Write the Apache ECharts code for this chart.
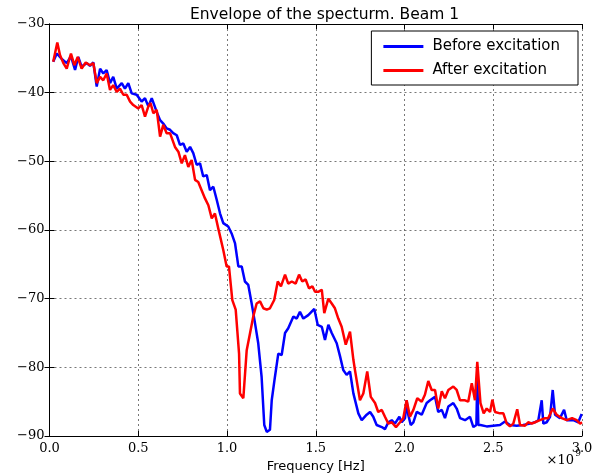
<!DOCTYPE html>
<html>
<head>
<meta charset="utf-8">
<script src="https://cdn.jsdelivr.net/npm/echarts@6/dist/echarts.min.js"></script>
<style>html,body{margin:0;padding:0;background:#fff}#c{width:593px;height:473px}</style>
</head>
<body>
<div id="c"></div>
<script>
// Frequency in units of 1e9 Hz
const beforeX = [0.021,0.041,0.069,0.097,0.121,0.144,0.162,0.181,0.210,0.228,0.247,0.266,0.285,0.303,0.322,0.341,0.359,0.379,0.407,0.425,0.444,0.463,0.491,0.519,0.538,0.557,0.576,0.604,0.623,0.641,0.660,0.679,0.697,0.717,0.735,0.754,0.773,0.792,0.810,0.829,0.848,0.866,0.886,0.904,0.923,0.942,0.961,0.979,1.007,1.026,1.045,1.064,1.083,1.101,1.120,1.139,1.158,1.176,1.195,1.210,1.224,1.242,1.252,1.270,1.289,1.308,1.327,1.345,1.374,1.393,1.411,1.430,1.458,1.492,1.511,1.534,1.552,1.571,1.590,1.618,1.637,1.655,1.674,1.693,1.712,1.740,1.759,1.787,1.806,1.824,1.843,1.872,1.890,1.909,1.928,1.946,1.971,1.984,2.003,2.012,2.021,2.035,2.050,2.069,2.097,2.125,2.144,2.172,2.190,2.210,2.228,2.247,2.275,2.294,2.313,2.341,2.369,2.388,2.405,2.410,2.416,2.428,2.463,2.500,2.538,2.566,2.594,2.632,2.669,2.707,2.735,2.754,2.773,2.782,2.801,2.820,2.835,2.848,2.876,2.899,2.914,2.951,2.979,2.998];
const beforeY = [-35.5,-34.3,-35.1,-35.7,-34.7,-36.7,-34.8,-36.2,-35.7,-36.1,-35.6,-39.1,-36.5,-37.2,-36.7,-38.6,-37.7,-39.4,-38.6,-39.4,-38.6,-40.1,-40.3,-41.3,-40.8,-42.0,-40.8,-42.8,-44.0,-44.5,-45.2,-45.4,-45.9,-46.2,-47.6,-47.4,-48.6,-47.9,-48.8,-50.5,-50.3,-52.2,-52.0,-54.2,-53.7,-55.6,-57.6,-59.0,-59.5,-60.5,-61.9,-65.3,-65.3,-67.5,-68.0,-70.7,-73.6,-76.5,-81.4,-88.4,-89.4,-89.1,-84.8,-81.4,-78.0,-78.2,-75.0,-74.3,-72.6,-72.9,-71.9,-72.9,-72.4,-71.5,-73.8,-74.1,-76.0,-73.8,-75.0,-76.5,-78.4,-80.4,-81.1,-80.6,-83.8,-86.7,-87.7,-86.9,-86.5,-87.2,-88.4,-88.7,-89.0,-88.0,-87.7,-88.2,-87.2,-88.0,-87.4,-84.8,-86.9,-88.4,-88.0,-86.5,-86.9,-85.2,-84.8,-84.3,-86.5,-86.2,-87.4,-85.7,-85.2,-86.0,-87.4,-87.7,-87.2,-88.7,-88.4,-81.5,-88.4,-88.4,-88.6,-88.5,-88.4,-87.9,-88.4,-88.5,-88.4,-88.2,-88.0,-87.7,-84.8,-88.2,-88.0,-87.2,-83.3,-86.9,-87.4,-86.2,-87.7,-87.7,-88.0,-86.8];
const afterX = [0.021,0.044,0.059,0.078,0.097,0.121,0.140,0.159,0.181,0.204,0.228,0.247,0.266,0.285,0.303,0.322,0.341,0.359,0.379,0.397,0.416,0.435,0.454,0.472,0.500,0.519,0.538,0.557,0.569,0.585,0.604,0.623,0.641,0.660,0.679,0.707,0.726,0.745,0.763,0.782,0.801,0.820,0.838,0.857,0.876,0.895,0.914,0.932,0.951,0.979,0.998,1.011,1.030,1.049,1.068,1.073,1.092,1.111,1.130,1.148,1.167,1.186,1.205,1.224,1.242,1.266,1.286,1.304,1.327,1.345,1.365,1.387,1.406,1.424,1.443,1.462,1.481,1.496,1.514,1.534,1.548,1.571,1.590,1.608,1.627,1.646,1.669,1.693,1.712,1.721,1.749,1.768,1.790,1.810,1.834,1.852,1.872,1.890,1.909,1.928,1.952,1.975,1.993,2.012,2.031,2.050,2.072,2.097,2.115,2.134,2.153,2.172,2.190,2.210,2.228,2.247,2.275,2.294,2.313,2.341,2.359,2.379,2.397,2.410,2.428,2.446,2.463,2.482,2.495,2.510,2.538,2.557,2.576,2.594,2.613,2.635,2.651,2.679,2.697,2.717,2.735,2.763,2.792,2.810,2.835,2.857,2.886,2.914,2.944,2.970,2.989,3.0];
const afterY = [-35.5,-32.7,-34.5,-35.7,-36.5,-34.3,-36.0,-34.8,-36.5,-35.6,-36.0,-35.7,-38.6,-37.7,-38.2,-37.2,-39.6,-38.9,-39.9,-39.4,-40.3,-40.3,-41.3,-41.8,-42.3,-41.8,-43.5,-42.0,-41.5,-43.0,-42.5,-46.4,-44.7,-45.9,-45.9,-47.9,-48.6,-50.3,-49.1,-50.8,-49.8,-52.7,-53.0,-54.2,-55.4,-56.4,-58.3,-57.6,-59.8,-62.9,-65.3,-65.3,-70.2,-71.6,-78.0,-83.8,-84.5,-77.5,-75.0,-72.6,-70.7,-70.4,-71.4,-71.6,-71.4,-70.2,-67.5,-68.2,-66.5,-67.8,-67.5,-67.8,-66.5,-67.5,-67.2,-68.5,-68.2,-69.0,-69.0,-68.7,-72.1,-70.0,-70.7,-71.4,-72.9,-74.1,-76.7,-74.8,-78.9,-80.4,-84.8,-83.8,-80.6,-84.3,-85.2,-86.5,-86.2,-87.2,-88.2,-88.0,-88.7,-88.0,-87.4,-84.8,-87.2,-86.2,-84.5,-85.0,-84.0,-82.0,-83.3,-83.3,-86.0,-83.5,-84.5,-83.3,-82.8,-83.3,-84.8,-84.8,-85.0,-82.3,-84.8,-79.2,-85.2,-86.7,-86.0,-86.5,-84.7,-86.5,-86.7,-86.7,-88.2,-88.6,-88.2,-86.1,-88.4,-88.5,-88.0,-88.2,-88.0,-87.7,-87.4,-87.4,-86.0,-86.9,-87.4,-87.7,-87.4,-87.7,-88.2,-88.0];
const xTicks = [0, 0.5, 1.0, 1.5, 2.0, 2.5, 3.0];
const yTicks = [-90, -80, -70, -60, -50, -40, -30];

const zip = (xs, ys) => xs.map((x, i) => [x, ys[i]]);
const serif = '"DejaVu Serif", "Liberation Serif", serif';
const sans = '"DejaVu Sans", "Liberation Sans", sans-serif';
const chart = echarts.init(document.getElementById('c'), null, {renderer: 'canvas'});
const gridStyle = {show: true, lineStyle: {color: '#555', type: [2, 3], width: 0.8}};
const tickIn = {show: true, inside: true, length: 5, lineStyle: {color: '#000', width: 1}};
chart.setOption({
  animation: false,
  backgroundColor: '#fff',
  title: {
    text: 'Envelope of the specturm. Beam 1',
    left: 185, top: 2,
    textStyle: {fontFamily: sans, fontSize: 15.5, fontWeight: 'normal', color: '#000'}
  },
  legend: {
    right: 15, top: 31, orient: 'vertical',
    icon: 'rect', itemWidth: 40, itemHeight: 3, itemGap: 9,
    borderColor: '#000', borderWidth: 1, borderRadius: 0,
    padding: [8, 18, 7, 12],
    backgroundColor: '#fff',
    textStyle: {fontFamily: sans, fontSize: 15, color: '#000', padding: [0, 0, 0, 4]},
    data: ['Before excitation', 'After excitation']
  },
  grid: {left: 49.5, right: 11, top: 24, bottom: 37, containLabel: false, outerBoundsMode: 'none'},
  xAxis: [{
    type: 'value', min: 0, max: 3, interval: 0.5,
    name: 'Frequency [Hz]', nameLocation: 'middle', nameGap: 22,
    nameTextStyle: {fontFamily: sans, fontSize: 13, color: '#000'},
    axisLine: {show: true, lineStyle: {color: '#000', width: 1}},
    axisTick: tickIn,
    axisLabel: {fontFamily: serif, fontSize: 13, color: '#000', margin: 6,
      formatter: v => xTicks.includes(v) ? v.toFixed(1) : ''},
    splitLine: gridStyle
  }, {
    type: 'value', min: 0, max: 3, interval: 0.5, position: 'top',
    axisLine: {show: true, lineStyle: {color: '#000', width: 1}},
    axisTick: tickIn, axisLabel: {show: false}, splitLine: {show: false}
  }],
  yAxis: [{
    type: 'value', min: -90, max: -30, interval: 10,
    axisLine: {show: true, lineStyle: {color: '#000', width: 1}},
    axisTick: tickIn,
    axisLabel: {fontFamily: serif, fontSize: 13, color: '#000', margin: 5,
      formatter: v => yTicks.includes(v) ? String(v).replace('-', '\u2212') : ''},
    splitLine: gridStyle
  }, {
    type: 'value', min: -90, max: -30, interval: 10, position: 'right',
    axisLine: {show: true, lineStyle: {color: '#000', width: 1}},
    axisTick: tickIn, axisLabel: {show: false}, splitLine: {show: false}
  }],
  graphic: [{
    type: 'text', right: 19, top: 454,
    style: {text: '\u00d710', font: '13px ' + serif, fill: '#000'}
  }, {
    type: 'text', right: 12, top: 449,
    style: {text: '9', font: '9px ' + serif, fill: '#000'}
  }],
  series: [{
    name: 'Before excitation', type: 'line', xAxisIndex: 0, yAxisIndex: 0,
    data: zip(beforeX, beforeY), showSymbol: false, symbol: 'none',
    lineStyle: {color: '#0000ff', width: 2.5}, itemStyle: {color: '#0000ff'}, z: 3
  }, {
    name: 'After excitation', type: 'line', xAxisIndex: 0, yAxisIndex: 0,
    data: zip(afterX, afterY), showSymbol: false, symbol: 'none',
    lineStyle: {color: '#ff0000', width: 2.5}, itemStyle: {color: '#ff0000'}, z: 4
  }]
});
</script>
</body>
</html>
